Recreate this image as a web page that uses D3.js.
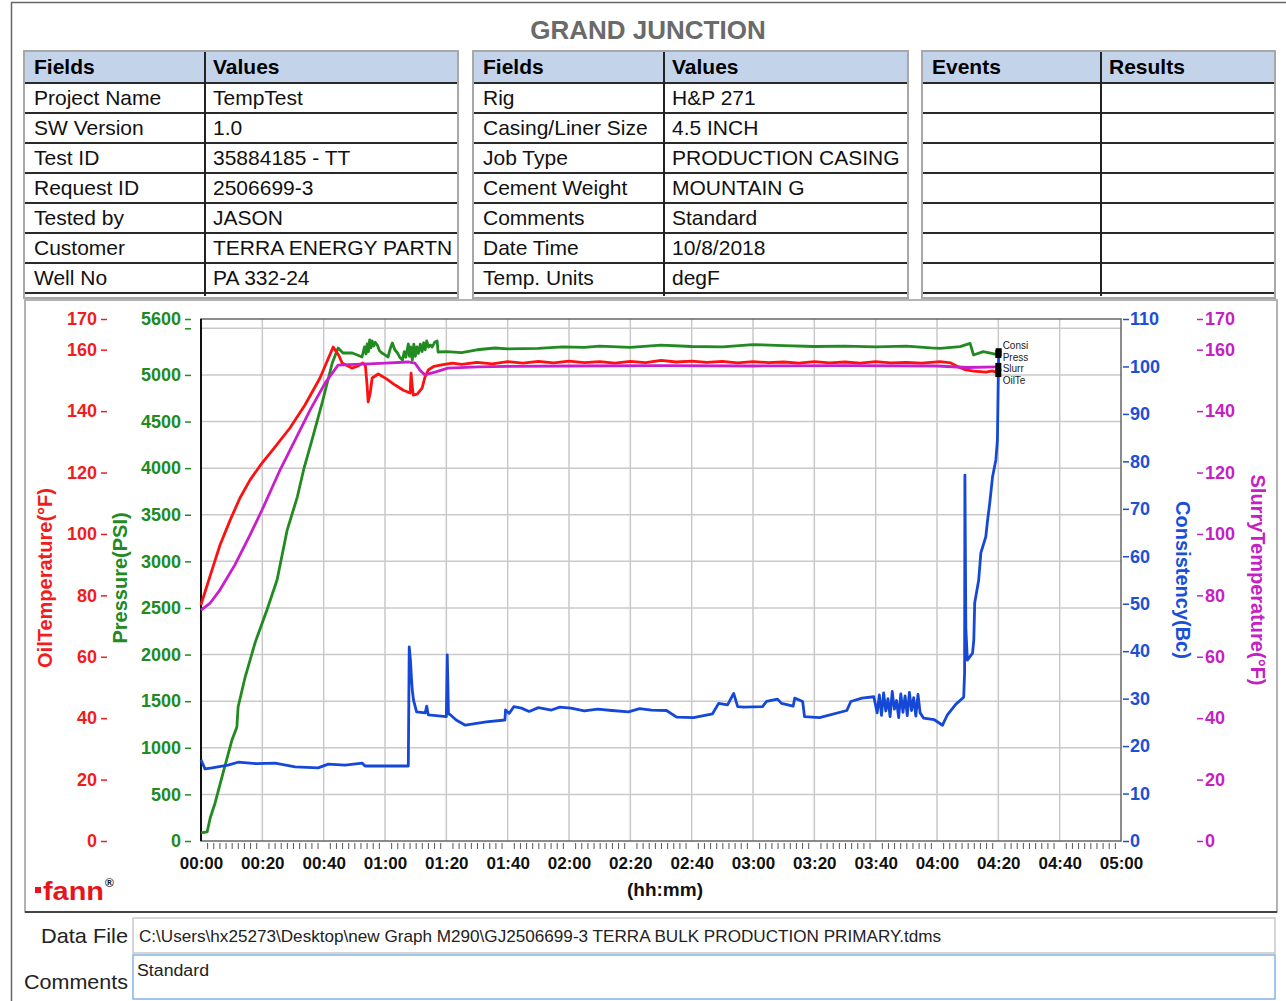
<!DOCTYPE html>
<html>
<head>
<meta charset="utf-8">
<script src="https://cdn.jsdelivr.net/npm/d3@7"></script>
<style>
body { margin: 0; background: #fff; }
svg text { font-family: "Liberation Sans", Arial, sans-serif; }
</style>
</head>
<body>
<script>
// header tables
const info1Fields = ['Project Name', 'SW Version', 'Test ID', 'Request ID', 'Tested by', 'Customer', 'Well No'];
const info1Values = ['TempTest', '1.0', '35884185 - TT', '2506699-3', 'JASON', 'TERRA ENERGY PARTN', 'PA 332-24'];
const info2Fields = ['Rig', 'Casing/Liner Size', 'Job Type', 'Cement Weight', 'Comments', 'Date Time', 'Temp. Units'];
const info2Values = ['H&P 271', '4.5 INCH', 'PRODUCTION CASING', 'MOUNTAIN G', 'Standard', '10/8/2018', 'degF'];
const eventRows = ['', '', '', '', '', '', ''];

// axes ticks
const timeTicks = [0, 20, 40, 60, 80, 100, 120, 140, 160, 180, 200, 220, 240, 260, 280, 300];
const timeLabels = ['00:00', '00:20', '00:40', '01:00', '01:20', '01:40', '02:00', '02:20', '02:40', '03:00', '03:20', '03:40', '04:00', '04:20', '04:40', '05:00'];
const tempTicks = [0, 20, 40, 60, 80, 100, 120, 140, 160, 170];
const pressTicks = [0, 500, 1000, 1500, 2000, 2500, 3000, 3500, 4000, 4500, 5000, 5500, 5600];
const consTicks = [0, 10, 20, 30, 40, 50, 60, 70, 80, 90, 100, 110];

// series: [minutes, value]
const oilTemp = [
	[0,76.9],[1.3,81.1],[3.6,88.3],[6.2,96.4],[9.5,104.5],[12.7,111.7],[16,117.6],[19.9,123.1],[24.1,128.3],
	[29,134.5],[33.9,142.0],[38.8,150.8],[43.1,160.9],[45,158],[46,155.7],[49.2,154.0],[51,154.6],[52.8,155.7],
	[53.6,154.8],[54.2,148],[54.5,143.0],[55.2,146],[55.8,150.8],[57.8,152.1],[60.5,150.5],[63.3,148.5],[66,146.8],
	[68.2,145.9],[68.5,152.4],[68.8,149],[69.2,145.2],[70.5,145.5],[72.1,147.5],[73,151],[74.1,153.4],[76,154.6],
	[78,155.0],[82,155.6],[85,155.2],[90,155.9],[95,155.4],[100,156.1],[105,155.6],[110,156.2],[115,155.7],
	[120,156.3],[125,155.8],[130,156.1],[135,155.6],[140,156.2],[145,155.8],[150,156.5],[155,156.0],[160,156.3],
	[165,155.9],[170,156.2],[175,155.7],[180,156.1],[185,155.8],[190,156.0],[195,155.6],[200,156.1],[205,155.7],
	[210,156.0],[215,155.6],[220,156.1],[225,155.7],[230,155.9],[235,155.6],[241,156.1],[244.5,155.7],[247,154.4],
	[249.4,153.4],[252,153.0],[256,152.7],[258,153.1],[260,152.4]
];
const slurryTemp = [
	[0,75.2],[3,77.5],[6.2,81.8],[11.1,90.0],[16,99.7],[19.9,107.8],[25.8,120.9],[30.7,130.6],[35.6,140.4],
	[40.5,149.2],[44.7,155.0],[50,155.2],[55,155.4],[60,155.6],[67.5,156.0],[69.8,155.6],[71.5,153.2],[73,151.8],
	[76.3,152.7],[80.5,154.0],[90.3,154.4],[100,154.6],[120,154.7],[150,154.8],[180,154.7],[210,154.8],[240,154.7],
	[250,154.2],[260,154.4]
];
const pressure = [
	[0,86],[2,97],[3,247],[4.6,408],[7.2,730],[10.1,1084],[11.7,1223],[12.1,1438],[14.4,1759],[17.6,2124],
	[21.5,2478],[24.8,2800],[28.1,3336],[31.4,3690],[33.6,4001],[36.2,4302],[39.5,4699],[42.8,5128],[44.7,5289],
	[46.3,5235],[49.3,5235],[51,5214],[52.5,5192],[53.3,5300],[53.8,5225],[54.2,5332],[54.6,5250],[55,5375],
	[55.4,5290],[55.8,5364],[56.3,5310],[56.8,5350],[57.5,5320],[58.2,5260],[59,5235],[60,5215],[61,5192],
	[61.7,5280],[62.4,5343],[63.2,5270],[64.1,5235],[64.8,5190],[65.7,5160],[66.3,5250],[66.8,5190],[67.6,5332],
	[68,5200],[68.4,5300],[68.9,5160],[69.4,5330],[69.9,5200],[70.4,5300],[70.9,5230],[71.5,5330],[72.1,5250],
	[72.6,5345],[73.1,5270],[73.6,5364],[74.2,5300],[74.8,5320],[75.4,5300],[76.2,5350],[77,5364],[77.3,5246],
	[80,5250],[85,5240],[90,5270],[95.9,5289],[100,5280],[110,5285],[118,5300],[125,5295],[130,5310],[140,5295],
	[150,5320],[160,5305],[170,5300],[180,5325],[190,5315],[200,5305],[210,5310],[220,5300],[230,5310],[238,5290],
	[241,5285],[247.5,5303],[250.8,5339],[251.9,5214],[255.1,5250],[259,5224],[260,5224]
];
const consistency = [
	[0,17.1],[1.3,15.2],[3.6,15.4],[8.8,16.0],[12.1,16.6],[18,16.3],[24.2,16.4],[30.7,15.6],[38.2,15.4],
	[41.5,16.2],[47,16.0],[52.6,16.4],[53.5,15.8],[60,15.8],[67.6,15.8],[67.9,40.9],[68.3,38.1],[68.6,34.6],
	[68.9,31.8],[69.3,29.7],[70.3,27.2],[73.1,27.0],[73.6,28.4],[74.1,26.6],[80,26.2],[80.3,39.2],[80.7,26.8],
	[81.3,26.6],[83.2,25.5],[86.2,24.4],[93,25.1],[99.1,25.5],[99.3,27.6],[100.5,26.9],[102,28.3],[104.5,28.0],
	[107,27.3],[110,28.1],[114.3,27.6],[117,28.2],[120.6,28.0],[125,27.4],[129.3,27.8],[134,27.5],[139.4,27.2],
	[143,27.9],[146.9,27.6],[151.8,27.5],[155.1,26.1],[160.6,26.0],[166.8,26.8],[168.8,29.0],[171.7,28.7],
	[173.7,31.1],[175,28.3],[177,28.2],[183.1,28.3],[184.4,29.4],[188,29.9],[189.3,29.0],[193.1,28.4],[193.6,30.1],
	[196.2,29.4],[196.8,26.2],[201.7,26.0],[210.6,27.5],[211.9,29.4],[215.5,30.1],[219.4,30.4],[220.5,27.0],
	[221.2,30.8],[221.9,26.5],[222.6,31.2],[223.3,27.4],[224,30.0],[224.7,26.2],[225.4,31.5],[226.1,27.8],
	[226.8,29.6],[227.5,26.0],[228.2,31.0],[228.9,27.1],[229.6,30.6],[230.3,26.4],[231,31.3],[231.7,27.5],
	[232.4,30.2],[233.1,26.3],[233.8,30.9],[234.5,27.0],[235.6,25.9],[239,25.6],[241.8,24.4],[243.4,26.6],
	[246.1,28.8],[248.7,30.3],[249.0,35.4],[249.1,77.1],[249.4,45],[249.9,38.1],[251.6,39.6],[252,42.4],
	[252.3,50.2],[253.6,55.0],[254.3,60.7],[255.9,64.1],[256.5,67.6],[257.2,71.2],[258.1,76.7],[259.2,80.3],
	[259.7,84.5],[260.1,103.0]
];

// end-of-line labels (stacked next to the end markers)
const endLabels = ['Consi', 'Press', 'Slurr', 'OilTe'];

const width = 1286, height = 1001;
const plot = { left: 201, right: 1121, top: 319, bottom: 841 };

const red = '#f21c1c', green = '#218a21', blue = '#1c4fd8', magenta = '#c51fc5';

const svg = d3.select('body').append('svg')
	.attr('width', width)
	.attr('height', height);

// page frame
svg.append('path')
	.attr('d', 'M11.5,1001 V2.5 H1286')
	.attr('fill', 'none')
	.attr('stroke', '#666')
	.attr('stroke-width', 1.5);

svg.append('text')
	.attr('x', 648).attr('y', 39)
	.attr('text-anchor', 'middle')
	.style('font-size', '26px').style('font-weight', 'bold')
	.attr('fill', '#6a6a6a')
	.text('GRAND JUNCTION');

function drawTable(x0, x1, xDiv, h1, h2, col1, col2) {
	const g = svg.append('g');
	g.append('rect').attr('x', x0).attr('y', 51).attr('width', x1 - x0).attr('height', 247)
		.attr('fill', '#fff').attr('stroke', '#a8a8a8').attr('stroke-width', 2);
	g.append('rect').attr('x', x0 + 1).attr('y', 52).attr('width', x1 - x0 - 2).attr('height', 31)
		.attr('fill', '#c3d3ea');
	for (let i = 0; i < 8; i++) {
		g.append('line').attr('x1', x0 + 1).attr('x2', x1 - 1)
			.attr('y1', 83 + 30 * i).attr('y2', 83 + 30 * i)
			.attr('stroke', '#2a2a2a').attr('stroke-width', 2);
	}
	g.append('line').attr('x1', xDiv).attr('x2', xDiv).attr('y1', 52).attr('y2', 296)
		.attr('stroke', '#222').attr('stroke-width', 2);
	g.append('text').attr('x', x0 + 10).attr('y', 74).style('font-size', '21px').style('font-weight', 'bold').text(h1);
	g.append('text').attr('x', xDiv + 8).attr('y', 74).style('font-size', '21px').style('font-weight', 'bold').text(h2);
	col1.forEach(function(d, i) {
		g.append('text').attr('x', x0 + 10).attr('y', 105 + 30 * i).style('font-size', '21px').attr('fill', '#111').text(d);
	});
	col2.forEach(function(d, i) {
		g.append('text').attr('x', xDiv + 8).attr('y', 105 + 30 * i).style('font-size', '21px').attr('fill', '#111').text(d);
	});
}

drawTable(24, 458, 205, 'Fields', 'Values', info1Fields, info1Values);
drawTable(473, 908, 664, 'Fields', 'Values', info2Fields, info2Values);
drawTable(922, 1275, 1101, 'Events', 'Results', eventRows, eventRows);

// chart panel
svg.append('rect').attr('x', 25).attr('y', 300).attr('width', 1252).attr('height', 612)
	.attr('fill', '#fff').attr('stroke', '#9a9a9a').attr('stroke-width', 1.5);
svg.append('line').attr('x1', 25).attr('x2', 1277).attr('y1', 912).attr('y2', 912)
	.attr('stroke', '#444').attr('stroke-width', 2);

// scales
const x = d3.scaleLinear().domain([0, 300]).range([plot.left, plot.right]);
const yOil = d3.scaleLinear().domain([0, 170]).range([plot.bottom, plot.top]);
const ySlurry = d3.scaleLinear().domain([0, 170]).range([plot.bottom, plot.top]);
const yPress = d3.scaleLinear().domain([0, 5600]).range([plot.bottom, plot.top]);
const yCons = d3.scaleLinear().domain([0, 110]).range([plot.bottom, plot.top]);

// grid
const grid = svg.append('g').attr('stroke', '#c9c9c9').attr('stroke-width', 1.5);
grid.selectAll('.vg').data(timeTicks.slice(1, -1)).enter().append('line')
	.attr('x1', d => x(d)).attr('x2', d => x(d))
	.attr('y1', plot.top).attr('y2', plot.bottom);
grid.selectAll('.hg').data(pressTicks.filter(d => d > 0 && d < 5600)).enter().append('line')
	.attr('x1', plot.left).attr('x2', plot.right)
	.attr('y1', d => yPress(d)).attr('y2', d => yPress(d));

svg.append('rect').attr('x', plot.left).attr('y', plot.top)
	.attr('width', plot.right - plot.left).attr('height', plot.bottom - plot.top)
	.attr('fill', 'none').attr('stroke', '#666').attr('stroke-width', 1.5);
svg.append('line').attr('x1', plot.left).attr('x2', plot.left).attr('y1', plot.top).attr('y2', plot.bottom)
	.attr('stroke', '#111').attr('stroke-width', 2);

function styleAxis(g, color) {
	g.select('.domain').remove();
	g.selectAll('.tick line').attr('stroke', color).attr('stroke-width', 1.5);
	g.selectAll('.tick text')
		.attr('fill', color)
		.style('font-size', '18px')
		.style('font-weight', 'bold')
		.style('font-family', '"Liberation Sans", Arial, sans-serif');
}

const oilAxis = svg.append('g').attr('transform', 'translate(107,0)')
	.call(d3.axisLeft(yOil).tickValues(tempTicks).tickSize(6).tickPadding(4));
styleAxis(oilAxis, red);

const pressAxis = svg.append('g').attr('transform', 'translate(191,0)')
	.call(d3.axisLeft(yPress).tickValues(pressTicks).tickSize(6).tickPadding(4)
		.tickFormat(d => d === 5500 ? '' : d));
styleAxis(pressAxis, green);

const consAxis = svg.append('g').attr('transform', 'translate(1123,0)')
	.call(d3.axisRight(yCons).tickValues(consTicks).tickSize(6).tickPadding(1));
styleAxis(consAxis, blue);

const slurryAxis = svg.append('g').attr('transform', 'translate(1197,0)')
	.call(d3.axisRight(ySlurry).tickValues(tempTicks).tickSize(6).tickPadding(2));
styleAxis(slurryAxis, magenta);

// x axis: labels + minor ticks
const xAxis = svg.append('g').attr('transform', 'translate(0,' + plot.bottom + ')')
	.call(d3.axisBottom(x).tickValues(timeTicks).tickSize(0).tickPadding(16)
		.tickFormat((d, i) => timeLabels[i]));
xAxis.select('.domain').remove();
xAxis.selectAll('.tick text')
	.attr('fill', '#111')
	.style('font-size', '17px')
	.style('font-weight', 'bold')
	.style('font-family', '"Liberation Sans Narrow", "Liberation Sans", Arial, sans-serif');

const minorTicks = d3.range(2, 300, 2).filter(d => d % 20 !== 0);
const minorAxis = svg.append('g').attr('transform', 'translate(0,' + (plot.bottom + 2) + ')')
	.call(d3.axisBottom(x).tickValues(minorTicks).tickSize(6).tickFormat(''));
minorAxis.select('.domain').remove();
minorAxis.selectAll('.tick line').attr('stroke', '#555').attr('stroke-width', 1);

svg.append('text').attr('x', 665).attr('y', 896).attr('text-anchor', 'middle')
	.style('font-size', '19px').style('font-weight', 'bold').attr('fill', '#111')
	.text('(hh:mm)');

// axis titles
svg.append('text').attr('transform', 'translate(52,578) rotate(-90)').attr('text-anchor', 'middle')
	.style('font-size', '20px').style('font-weight', 'bold').attr('fill', red).text('OilTemperature(°F)');
svg.append('text').attr('transform', 'translate(127,578) rotate(-90)').attr('text-anchor', 'middle')
	.style('font-size', '20px').style('font-weight', 'bold').attr('fill', green).text('Pressure(PSI)');
svg.append('text').attr('transform', 'translate(1176,580) rotate(90)').attr('text-anchor', 'middle')
	.style('font-size', '20px').style('font-weight', 'bold').attr('fill', blue).text('Consistency(Bc)');
svg.append('text').attr('transform', 'translate(1251,580) rotate(90)').attr('text-anchor', 'middle')
	.style('font-size', '20px').style('font-weight', 'bold').attr('fill', magenta).text('SlurryTemperature(°F)');

// series
const series = [
	{ data: pressure, y: yPress, color: green },
	{ data: oilTemp, y: yOil, color: '#ff1010' },
	{ data: slurryTemp, y: ySlurry, color: '#c81ecc' },
	{ data: consistency, y: yCons, color: '#1648d8' }
];

series.forEach(function(s) {
	const line = d3.line().x(d => x(d[0])).y(d => s.y(d[1]));
	svg.append('path').datum(s.data)
		.attr('d', line)
		.attr('fill', 'none')
		.attr('stroke', s.color)
		.attr('stroke-width', 2.8)
		.attr('stroke-linejoin', 'round');
});

// end markers
series.forEach(function(s) {
	const last = s.data[s.data.length - 1];
	const ex = x(last[0]), ey = s.y(last[1]);
	svg.append('rect').attr('x', ex - 3).attr('y', ey - 4).attr('width', 6).attr('height', 8).attr('fill', '#000');
});

// stacked end labels next to the markers
const labelX = x(260.1) + 4;
const labelTop = yCons(103.0) - 3;
endLabels.forEach(function(d, i) {
	svg.append('text').attr('x', labelX).attr('y', labelTop + i * 11.5)
		.style('font-size', '10px').attr('fill', '#222').text(d);
});

// fann logo
svg.append('rect').attr('x', 35).attr('y', 887).attr('width', 6).attr('height', 6).attr('fill', '#e8141c');
svg.append('text').attr('x', 43).attr('y', 900)
	.style('font-size', '26px').style('font-weight', 'bold').attr('fill', '#e8141c')
	.attr('textLength', 61).attr('lengthAdjust', 'spacingAndGlyphs').text('fann');
svg.append('text').attr('x', 105).attr('y', 887)
	.style('font-size', '12px').style('font-weight', 'bold').attr('fill', '#111').text('®');

// data file / comments
svg.append('text').attr('x', 128).attr('y', 943).attr('text-anchor', 'end')
	.style('font-size', '21px').attr('fill', '#222')
	.attr('textLength', 87).attr('lengthAdjust', 'spacingAndGlyphs').text('Data File');
svg.append('rect').attr('x', 133).attr('y', 918).attr('width', 1142).attr('height', 35)
	.attr('fill', '#fff').attr('stroke', '#c8c8c8').attr('stroke-width', 1.5);
svg.append('text').attr('x', 139).attr('y', 942)
	.style('font-size', '17px').attr('fill', '#222')
	.attr('textLength', 802).attr('lengthAdjust', 'spacingAndGlyphs')
	.text('C:\\Users\\hx25273\\Desktop\\new Graph M290\\GJ2506699-3 TERRA BULK PRODUCTION PRIMARY.tdms');

svg.append('text').attr('x', 128).attr('y', 989).attr('text-anchor', 'end')
	.style('font-size', '21px').attr('fill', '#222')
	.attr('textLength', 104).attr('lengthAdjust', 'spacingAndGlyphs').text('Comments');
svg.append('rect').attr('x', 133).attr('y', 955).attr('width', 1142).attr('height', 44)
	.attr('fill', '#fff').attr('stroke', '#84b2e4').attr('stroke-width', 1.5);
svg.append('text').attr('x', 137).attr('y', 976)
	.style('font-size', '16px').attr('fill', '#222')
	.attr('textLength', 72).attr('lengthAdjust', 'spacingAndGlyphs').text('Standard');
</script>
</body>
</html>
